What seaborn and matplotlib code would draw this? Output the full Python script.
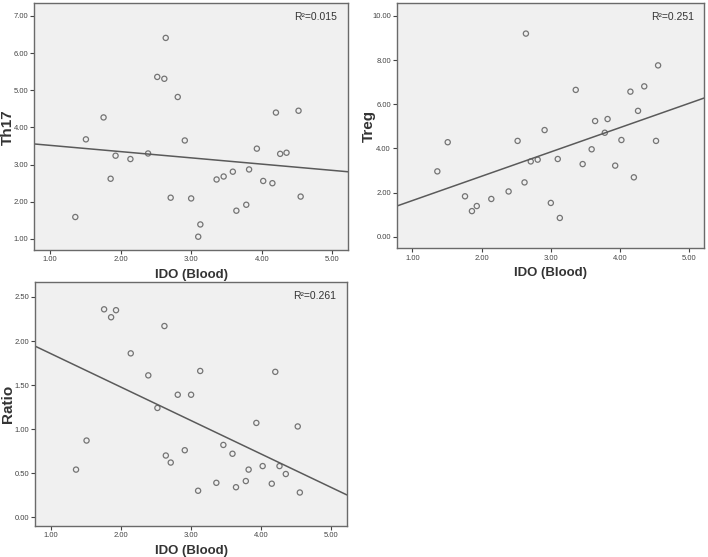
import matplotlib
matplotlib.use("Agg")
import matplotlib.pyplot as plt
import seaborn as sns
import numpy as np
import pandas as pd
from matplotlib.ticker import FormatStrFormatter, MultipleLocator

sns.set_style("white")
plt.rcParams['font.family'] = ['Liberation Sans', 'DejaVu Sans']

ido = [1.36, 1.51, 1.76, 1.86, 1.93, 2.14, 2.39, 2.52, 2.62, 2.64,
       2.71, 2.81, 2.91, 3.00, 3.10, 3.13, 3.36, 3.46, 3.59, 3.64,
       3.78, 3.82, 3.93, 4.02, 4.15, 4.20, 4.26, 4.35, 4.52, 4.55]
th17 = [1.59, 3.68, 4.27, 2.62, 3.24, 3.15, 3.30, 5.36, 5.31, 6.41,
        2.11, 4.82, 3.65, 2.09, 1.06, 1.39, 2.60, 2.68, 2.81, 1.76,
        1.92, 2.87, 3.43, 2.56, 2.50, 4.40, 3.29, 3.32, 4.45, 2.14]
treg = [2.96, 4.28, 1.83, 1.16, 1.39, 1.71, 2.05, 4.34, 2.46, 9.20,
        3.41, 3.49, 4.83, 1.53, 3.52, 0.85, 6.65, 3.29, 3.96, 5.24,
        4.71, 5.33, 3.22, 4.38, 6.57, 2.69, 5.70, 6.81, 4.34, 7.76]
ratio = [0.54, 0.87, 2.36, 2.27, 2.35, 1.86, 1.61, 1.24, 2.17, 0.70,
         0.62, 1.39, 0.76, 1.39, 0.30, 1.66, 0.39, 0.82, 0.72, 0.34,
         0.41, 0.54, 1.07, 0.58, 0.38, 1.65, 0.58, 0.49, 1.03, 0.28]
r2_labels = ["R\u00b2=0.015", "R\u00b2=0.251", "R\u00b2=0.261"]

df = pd.DataFrame({"IDO (Blood)": ido, "Th17": th17, "Treg": treg, "Ratio": ratio})

fig = plt.figure(figsize=(7.08, 5.57), dpi=100)
axes_pos = [
    [0.0485, 0.551, 0.443, 0.443],
    [0.561, 0.554, 0.434, 0.440],
    [0.0499, 0.0557, 0.440, 0.438],
]
ylabel_x = [-0.084, -0.092, -0.087]
specs = [
    ("Th17", (0.70, 7.34), 1.0),
    ("Treg", (-0.53, 10.57), 2.0),
    ("Ratio", (-0.10, 2.67), 0.5),
]
edge = "#6a6a6a"
for pos, (col, ylim, step), r2, lx in zip(axes_pos, specs, r2_labels, ylabel_x):
    ax = fig.add_axes(pos)
    ax.set_facecolor("#f0f0f0")
    ax.set_xlim(0.78, 5.22)
    ax.set_ylim(*ylim)
    sns.regplot(data=df, x="IDO (Blood)", y=col, ax=ax, ci=None, truncate=False,
                scatter_kws=dict(s=14, facecolors="none", edgecolors="#555555", linewidths=0.9),
                line_kws=dict(color="#5a5a5a", lw=1.1))
    ax.set_xlim(0.78, 5.22)
    ax.set_ylim(*ylim)
    ax.xaxis.set_major_locator(MultipleLocator(1.0))
    ax.yaxis.set_major_locator(MultipleLocator(step))
    ax.xaxis.set_major_formatter(FormatStrFormatter("%.2f"))
    ax.yaxis.set_major_formatter(FormatStrFormatter("%.2f"))
    ax.tick_params(axis="both", which="major", labelsize=5.5, length=3, width=0.8,
                   colors="#444444", direction="out", pad=1.5, left=True, bottom=True)
    for s in ax.spines.values():
        s.set_color(edge)
        s.set_linewidth(1.0)
    ax.set_xlabel("IDO (Blood)", fontsize=9.5, fontweight="bold", color="#333333", labelpad=4)
    ax.set_ylabel(col, fontsize=11, fontweight="bold", color="#333333")
    ax.yaxis.label.set_va("center")
    ax.yaxis.set_label_coords(lx, 0.5)
    ax.text(0.965, 0.965, r2, transform=ax.transAxes, ha="right", va="top",
            fontsize=7.5, color="#333333")

fig.savefig("out.png", dpi=100)
